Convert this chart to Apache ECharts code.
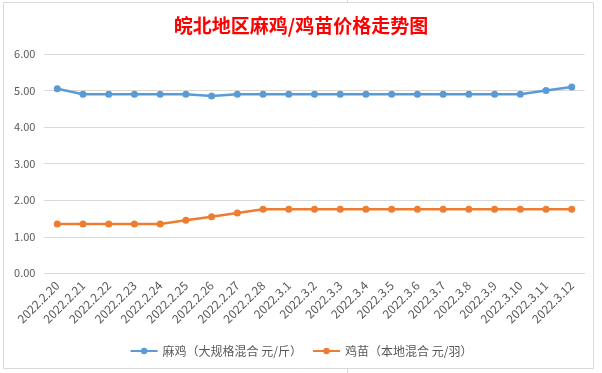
<!DOCTYPE html>
<html>
<head>
<meta charset="utf-8">
<script src="https://cdn.jsdelivr.net/npm/echarts@6/dist/echarts.min.js"></script>
<style>
html,body{margin:0;padding:0;background:#fff;}
#c{width:602px;height:373px;}
</style>
</head>
<body>
<div id="c"></div>
<script>
const titleText = '皖北地区麻鸡/鸡苗价格走势图';
const categories = ['2022.2.20','2022.2.21','2022.2.22','2022.2.23','2022.2.24','2022.2.25','2022.2.26','2022.2.27','2022.2.28','2022.3.1','2022.3.2','2022.3.3','2022.3.4','2022.3.5','2022.3.6','2022.3.7','2022.3.8','2022.3.9','2022.3.10','2022.3.11','2022.3.12'];
const seriesNames = ['麻鸡（大规格混合 元/斤）','鸡苗（本地混合 元/羽）'];
const majiValues = [5.05,4.9,4.9,4.9,4.9,4.9,4.85,4.9,4.9,4.9,4.9,4.9,4.9,4.9,4.9,4.9,4.9,4.9,4.9,5.0,5.1];
const jimiaoValues = [1.35,1.35,1.35,1.35,1.35,1.45,1.55,1.65,1.75,1.75,1.75,1.75,1.75,1.75,1.75,1.75,1.75,1.75,1.75,1.75,1.75];
const yTicks = {min:0, max:6, interval:1};

const chart = echarts.init(document.getElementById('c'), null, {renderer:'canvas'});
const font = '"Microsoft YaHei","Noto Sans CJK SC","Noto Sans",sans-serif';
chart.setOption({
  animation:false,
  backgroundColor:'#fff',
  graphic:[
    {type:'rect', shape:{x:3.5,y:2.5,width:590,height:366}, style:{fill:'none',stroke:'#D9D9D9',lineWidth:1}, z:-1},
    {type:'line', shape:{x1:347.5,y1:0,x2:347.5,y2:2}, style:{stroke:'#D9D9D9'}},
    {type:'line', shape:{x1:347.5,y1:369,x2:347.5,y2:373}, style:{stroke:'#D9D9D9'}}
  ],
  title:{
    text:titleText, left:'center', top:11,
    textStyle:{color:'#FF0000', fontSize:19, fontWeight:'bold', fontFamily:'"Noto Sans CJK SC",serif'}
  },
  legend:{
    bottom:11, left:'center', itemWidth:27, itemHeight:8, itemGap:10,
    textStyle:{color:'#595959', fontSize:12, fontFamily:font},
    data:seriesNames
  },
  grid:{left:44.4, right:17.4, top:54, height:219.3, containLabel:false},
  xAxis:{
    type:'category', data:categories, boundaryGap:true,
    axisLine:{show:true, lineStyle:{color:'#D9D9D9'}},
    axisTick:{show:false},
    axisLabel:{rotate:45, interval:0, color:'#595959', fontSize:12, fontFamily:font, margin:10}
  },
  yAxis:{
    type:'value', min:yTicks.min, max:yTicks.max, interval:yTicks.interval,
    axisLine:{show:false}, axisTick:{show:false},
    splitLine:{lineStyle:{color:'#D9D9D9'}},
    axisLabel:{color:'#595959', fontSize:11, fontFamily:font, margin:9, formatter:v=>v.toFixed(2)}
  },
  series:[
    {name:seriesNames[0], type:'line', data:majiValues, symbol:'circle', symbolSize:7,
     lineStyle:{color:'#5B9BD5', width:2.5}, itemStyle:{color:'#5B9BD5'}},
    {name:seriesNames[1], type:'line', data:jimiaoValues, symbol:'circle', symbolSize:7,
     lineStyle:{color:'#ED7D31', width:2.5}, itemStyle:{color:'#ED7D31'}}
  ]
});
</script>
</body>
</html>
